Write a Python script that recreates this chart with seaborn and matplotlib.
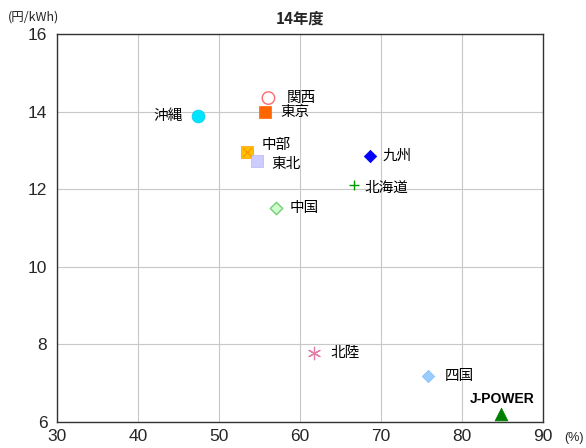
import matplotlib
matplotlib.use("Agg")
import matplotlib.pyplot as plt
import seaborn as sns
import pandas as pd

# 設備利用率 (%) と 発電単価 (円/kWh)
companies = ["関西", "東京", "沖縄", "中部", "東北", "中国", "九州", "北海道", "北陸", "四国", "J-POWER"]
utilization = [56.1, 55.7, 47.4, 53.5, 54.7, 57.0, 68.6, 66.7, 61.7, 75.8, 84.8]
unit_cost = [14.35, 14.0, 13.89, 12.96, 12.73, 11.52, 12.86, 12.11, 7.78, 7.19, 6.2]

x_ticks = [30, 40, 50, 60, 70, 80, 90]
y_ticks = [6, 8, 10, 12, 14, 16]

df = pd.DataFrame({"company": companies, "util": utilization, "cost": unit_cost})

styles = {
    "関西":    dict(marker="o", s=80, facecolor="none", edgecolor="#FF6B6B", linewidth=1.0),
    "東京":    dict(marker="s", s=80, facecolor="#FF6600", edgecolor="#FF6600", linewidth=0.5),
    "沖縄":    dict(marker="o", s=85, facecolor="#00E5FF", edgecolor="#00CCEE", linewidth=0.5),
    "中部":    dict(marker="s", s=75, facecolor="#FFC000", edgecolor="#FF9900", linewidth=0.5),
    "東北":    dict(marker="s", s=80, facecolor="#CCCCFF", edgecolor="#B8B8F0", linewidth=0.5),
    "中国":    dict(marker="D", s=40, facecolor="#CCFFCC", edgecolor="#77CC77", linewidth=1.0),
    "九州":    dict(marker="D", s=40, facecolor="#0000FF", edgecolor="#0000EE", linewidth=0.5),
    "北海道":  dict(marker="+", s=60, color="#009900", linewidth=1.0),
    "北陸":    dict(marker=(6, 2, 0), s=80, color="#E080A8", linewidth=0.9),
    "四国":    dict(marker="D", s=40, facecolor="#99CCFF", edgecolor="#88BBEE", linewidth=0.5),
    "J-POWER": dict(marker="^", s=85, facecolor="#008000", edgecolor="#008000", linewidth=0.5),
}

label_offsets = {
    "関西": (13, 0, "left"),
    "東京": (11, 0, "left"),
    "沖縄": (-11, 0, "right"),
    "中部": (10, 5, "left"),
    "東北": (10, -2, "left"),
    "中国": (10, 0, "left"),
    "九州": (9, 0, "left"),
    "北海道": (7, -2, "left"),
    "北陸": (12, 0, "left"),
    "四国": (12, 0, "left"),
    "J-POWER": (1, 11, "center"),
}

sns.set_style("white")
plt.rcParams["font.family"] = ["Noto Sans CJK JP", "DejaVu Sans"]

fig = plt.figure(figsize=(5.86, 4.48), dpi=100)
ax = fig.add_axes([0.0973, 0.058, 0.8293, 0.866])

for name in companies:
    sub = df[df["company"] == name]
    sns.scatterplot(data=sub, x="util", y="cost", ax=ax, legend=False, zorder=3, **styles[name])
    # 中部: 四角の中に×印
    if name == "中部":
        sns.scatterplot(data=sub, x="util", y="cost", ax=ax, legend=False, zorder=4,
                        marker="x", s=40, color="#FF9900", linewidth=1.0)

for name, ux, cy in zip(companies, utilization, unit_cost):
    dx, dy, ha = label_offsets[name]
    if name == "J-POWER":
        ax.annotate(name, (ux, cy), xytext=(dx, dy), textcoords="offset points",
                    ha=ha, va="center", fontsize=10, fontweight="bold",
                    family=["Liberation Sans", "DejaVu Sans"], color="black")
    else:
        ax.annotate(name, (ux, cy), xytext=(dx, dy), textcoords="offset points",
                    ha=ha, va="center", fontsize=10.5, fontweight="normal",
                    family=["Noto Sans CJK JP", "DejaVu Sans"], color="black")

ax.set_xlim(30, 90)
ax.set_ylim(6, 16)
ax.set_xticks(x_ticks)
ax.set_yticks(y_ticks)
ax.set_xticklabels([str(t) for t in x_ticks], family=["Liberation Sans"], fontsize=12.5)
ax.set_yticklabels([str(t) for t in y_ticks], family=["Liberation Sans"], fontsize=12.5)
ax.tick_params(axis="x", length=0, pad=5)
ax.tick_params(axis="y", length=0, pad=7)
ax.grid(True, color="#C8C8C8", linewidth=0.8)
ax.set_axisbelow(True)
for sp in ax.spines.values():
    sp.set_color("#333333")
    sp.set_linewidth(1.0)
ax.set_xlabel("")
ax.set_ylabel("")

fig.text(0.512, 0.958, "14年度", ha="center", va="center", fontsize=11, fontweight="bold",
         family=["Noto Sans CJK JP", "DejaVu Sans"])
fig.text(0.014, 0.962, "(円/kWh)", ha="left", va="center", fontsize=9,
         family=["Noto Sans CJK JP", "DejaVu Sans"])
fig.text(0.963, 0.022, "(%)", ha="left", va="center", fontsize=9,
         family=["Liberation Sans", "DejaVu Sans"])

fig.savefig("out.png", dpi=100)
